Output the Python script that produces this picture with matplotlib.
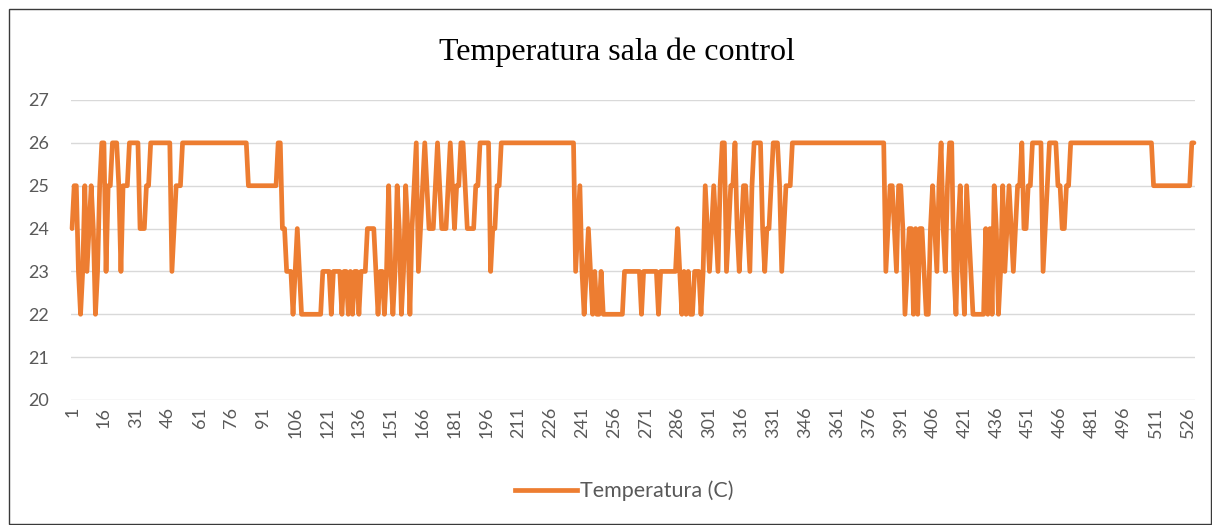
import matplotlib
matplotlib.use("Agg")
import matplotlib.pyplot as plt
from matplotlib.patches import Rectangle
from matplotlib.lines import Line2D

title = "Temperatura sala de control"
series_name = "Temperatura (C)"
y_ticks = [20, 21, 22, 23, 24, 25, 26, 27]

temperature = [
    24, 25, 25, 23, 22, 23, 25, 23, 24, 25,
    24, 22, 23, 25, 26, 26, 23, 25, 25, 26,
    26, 26, 25, 23, 25, 25, 25, 26, 26, 26,
    26, 26, 24, 24, 24, 25, 25, 26, 26, 26,
    26, 26, 26, 26, 26, 26, 26, 23, 24, 25,
    25, 25, 26, 26, 26, 26, 26, 26, 26, 26,
    26, 26, 26, 26, 26, 26, 26, 26, 26, 26,
    26, 26, 26, 26, 26, 26, 26, 26, 26, 26,
    26, 26, 26, 25, 25, 25, 25, 25, 25, 25,
    25, 25, 25, 25, 25, 25, 25, 26, 26, 24,
    24, 23, 23, 23, 22, 23, 24, 23, 22, 22,
    22, 22, 22, 22, 22, 22, 22, 22, 23, 23,
    23, 23, 22, 23, 23, 23, 23, 22, 23, 23,
    22, 23, 22, 23, 23, 22, 23, 23, 23, 24,
    24, 24, 24, 23, 22, 23, 23, 22, 23, 25,
    23, 22, 23, 25, 24, 22, 23, 25, 24, 22,
    24, 25, 26, 23, 24, 25, 26, 25, 24, 24,
    24, 25, 26, 25, 24, 24, 24, 25, 26, 25,
    24, 25, 25, 26, 26, 25, 24, 24, 24, 24,
    25, 25, 26, 26, 26, 26, 26, 23, 24, 24,
    25, 25, 26, 26, 26, 26, 26, 26, 26, 26,
    26, 26, 26, 26, 26, 26, 26, 26, 26, 26,
    26, 26, 26, 26, 26, 26, 26, 26, 26, 26,
    26, 26, 26, 26, 26, 26, 26, 23, 24, 25,
    23, 22, 23, 24, 23, 22, 23, 22, 22, 23,
    22, 22, 22, 22, 22, 22, 22, 22, 22, 22,
    23, 23, 23, 23, 23, 23, 23, 23, 22, 23,
    23, 23, 23, 23, 23, 23, 22, 23, 23, 23,
    23, 23, 23, 23, 23, 24, 23, 22, 23, 22,
    23, 22, 22, 23, 23, 23, 22, 23, 25, 24,
    23, 24, 25, 24, 23, 25, 26, 26, 23, 24,
    25, 25, 26, 24, 23, 24, 25, 25, 24, 23,
    25, 26, 26, 26, 26, 24, 23, 24, 24, 25,
    26, 26, 26, 25, 23, 24, 25, 25, 25, 26,
    26, 26, 26, 26, 26, 26, 26, 26, 26, 26,
    26, 26, 26, 26, 26, 26, 26, 26, 26, 26,
    26, 26, 26, 26, 26, 26, 26, 26, 26, 26,
    26, 26, 26, 26, 26, 26, 26, 26, 26, 26,
    26, 26, 26, 23, 24, 25, 25, 24, 23, 25,
    25, 24, 22, 23, 24, 24, 22, 24, 22, 24,
    24, 23, 22, 22, 24, 25, 24, 23, 25, 26,
    24, 23, 25, 26, 26, 23, 22, 24, 25, 23,
    22, 25, 24, 23, 22, 22, 22, 22, 22, 22,
    24, 22, 24, 22, 25, 24, 22, 23, 25, 23,
    24, 25, 24, 23, 24, 25, 25, 26, 24, 24,
    25, 25, 26, 26, 26, 26, 26, 23, 24, 25,
    26, 26, 26, 26, 25, 25, 24, 24, 25, 25,
    26, 26, 26, 26, 26, 26, 26, 26, 26, 26,
    26, 26, 26, 26, 26, 26, 26, 26, 26, 26,
    26, 26, 26, 26, 26, 26, 26, 26, 26, 26,
    26, 26, 26, 26, 26, 26, 26, 26, 26, 25,
    25, 25, 25, 25, 25, 25, 25, 25, 25, 25,
    25, 25, 25, 25, 25, 25, 25, 26, 26,
]
categories = list(range(1, len(temperature) + 1))
x_tick_labels = [str(c) for c in categories if (c - 1) % 15 == 0]

W, H = 1212, 525
fig = plt.figure(figsize=(W / 100, H / 100), dpi=100)
fig.patch.set_facecolor("white")

# outer chart border
fig.add_artist(Rectangle((8.5 / W, 1 - 524 / H), (1210.5 - 8.5) / W, (524 - 8.5) / H,
                         transform=fig.transFigure, fill=False, edgecolor="#3a3a3a", lw=1.0))

left, right, top, bottom = 71, 1195, 100, 400
ax = fig.add_axes([left / W, 1 - bottom / H, (right - left) / W, (bottom - top) / H])

line_color = "#ED7D31"
ax.plot(categories, temperature, color=line_color, lw=3.4,
        solid_joinstyle="round", solid_capstyle="round", zorder=3, clip_on=False)

ax.set_xlim(0.5, len(temperature) + 0.5)
ax.set_ylim(20, 27)
ax.set_yticks(y_ticks)
ax.set_yticklabels([str(v) for v in y_ticks])
tick_pos = [c for c in categories if (c - 1) % 15 == 0]
ax.set_xticks(tick_pos)
ax.set_xticklabels(x_tick_labels, rotation=90)

for s in ax.spines.values():
    s.set_visible(False)
ax.grid(axis="y", color="#D9D9D9", lw=1.0, zorder=0)
ax.tick_params(axis="both", length=0, labelsize=13, labelcolor="#595959", labelfontfamily="Lato")
ax.tick_params(axis="y", pad=16)
ax.tick_params(axis="x", pad=5)

fig.text(617 / W, 1 - 52 / H, title, ha="center", va="center", fontsize=23,
         family="Liberation Serif", color="black")

handle = Line2D([], [], color=line_color, lw=3.4)
fig.legend([handle], [series_name], loc="center", bbox_to_anchor=(624 / W, 1 - 491 / H),
           frameon=False, handlelength=2.9, handletextpad=0.1,
           prop={"family": "Lato", "size": 15.5}, labelcolor="#595959")

fig.savefig("out.png", dpi=100)
